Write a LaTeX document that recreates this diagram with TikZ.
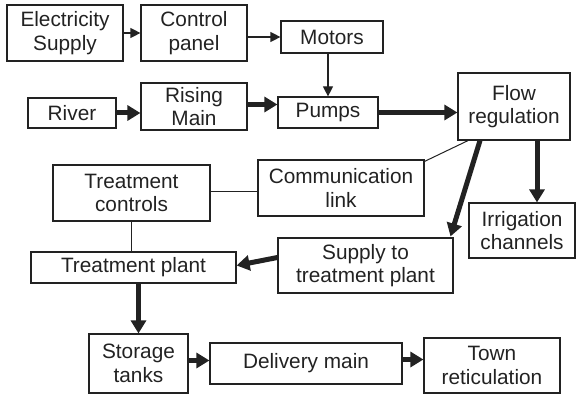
\documentclass[tikz,border=0pt]{standalone}
\usepackage{fontspec}
\setmainfont{Liberation Sans}
\usetikzlibrary{arrows.meta}
\definecolor{ink}{HTML}{222222}
\tikzset{
  box/.style={draw=ink, line width=1.2pt, text=ink, inner sep=0pt, align=center,
    font=\fontsize{20.8}{23.5}\selectfont, minimum width=#1},
  thin/.style={draw=ink, line width=1pt},
  thinarrow/.style={draw=ink, line width=1.2pt, -{Triangle[length=10pt,width=10pt]}},
  thickarrow/.style={draw=ink, line width=5pt, -{Triangle[length=13pt,width=15pt]}},
}
\begin{document}
\begin{tikzpicture}[x=1pt,y=-1pt]
\useasboundingbox (0,0) rectangle (579,396);
\node[box=116pt, minimum height=56pt] (elec) at (65,33) {Electricity\\Supply};
\node[box=106pt, minimum height=56pt] (ctrl) at (194,33) {Control\\panel};
\node[box=102pt, minimum height=32pt] (motors) at (332,37) {Motors};
\node[box=88pt, minimum height=30pt] (river) at (72,113) {River};
\node[box=106pt, minimum height=47pt] (rising) at (194,106.5) {Rising\\Main};
\node[box=100pt, minimum height=31pt] (pumps) at (328,112.5) {Pumps};
\node[box=112pt, minimum height=67pt] (flow) at (514,106.5) {Flow\\regulation};
\node[box=166pt, minimum height=56pt] (comm) at (341,188) {Communication\\link};
\node[box=106pt, minimum height=55pt] (irr) at (522,230.5) {Irrigation\\channels};
\node[box=175pt, minimum height=55pt] (supply) at (365.5,265.5) {Supply to\\treatment plant};
\node[box=157pt, minimum height=56pt] (tctrl) at (131.5,193) {Treatment\\controls};
\node[box=205pt, minimum height=31pt] (tplant) at (133.5,267.5) {Treatment plant};
\node[box=99pt, minimum height=59pt] (storage) at (138.5,363.5) {Storage\\tanks};
\node[box=192pt, minimum height=41pt] (delivery) at (306,363.5) {Delivery main};
\node[box=136pt, minimum height=55pt] (town) at (492,365.5) {Town\\reticulation};

\draw[thinarrow] (elec.east) -- (elec.east -| ctrl.west);
\draw[thinarrow] (ctrl.east |- motors.west) -- (motors.west);
\draw[thinarrow] (pumps.north |- motors.south) -- (pumps.north);
\draw[thickarrow] (river.east) -- (river.east -| rising.west);
\draw[thickarrow] ([yshift=2pt]rising.east) -- ([yshift=2pt]rising.east -| pumps.west);
\draw[thickarrow] (pumps.east) -- (pumps.east -| flow.west);
\draw[thickarrow] ([xshift=23pt]flow.south) -- ([xshift=23pt]flow.south |- irr.north);
\draw[thickarrow] ([xshift=-34pt]flow.south) -- ([xshift=85pt,yshift=1pt]supply.north);
\draw[thin] ([yshift=-2pt]comm.north east) -- ([xshift=-46pt]flow.south);
\draw[thin] ([yshift=2pt]tctrl.east) -- ([yshift=2pt]tctrl.east -| comm.west);
\draw[thin] (tctrl.south) -- (tctrl.south |- tplant.north);
\draw[thickarrow] ([yshift=8pt]supply.west) -- ([yshift=2pt]tplant.east);
\draw[thickarrow] (storage.north |- tplant.south) -- (storage.north);
\draw[thickarrow] ([yshift=3pt]storage.east) -- ([yshift=3pt]storage.east -| delivery.west);
\draw[thickarrow] ([yshift=4pt]delivery.east) -- ([yshift=4pt]delivery.east -| town.west);
\end{tikzpicture}
\end{document}
